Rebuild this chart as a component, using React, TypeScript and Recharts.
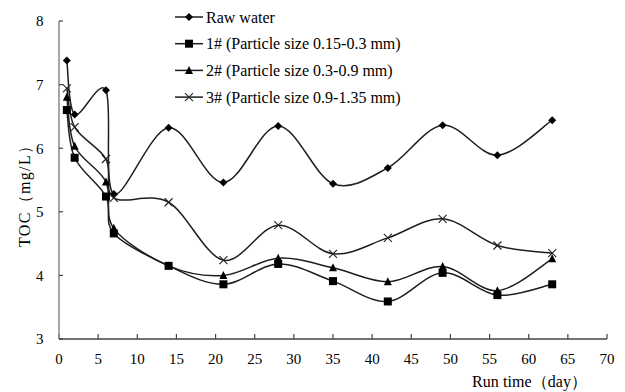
import React from 'react';
import { LineChart, Line, XAxis, YAxis, Legend, Label } from 'recharts';

const days = [1, 2, 6, 7, 14, 21, 28, 35, 42, 49, 56, 63];
const rawWater = [7.38, 6.53, 6.91, 5.28, 6.32, 5.46, 6.35, 5.44, 5.69, 6.36, 5.89, 6.44];
const filter1 = [6.6, 5.85, 5.24, 4.66, 4.15, 3.86, 4.18, 3.91, 3.59, 4.04, 3.69, 3.86];
const filter2 = [6.8, 6.03, 5.47, 4.74, 4.15, 4.0, 4.27, 4.12, 3.9, 4.14, 3.76, 4.26];
const filter3 = [6.94, 6.33, 5.83, 5.22, 5.15, 4.24, 4.79, 4.34, 4.59, 4.89, 4.47, 4.35];

const seriesNames = [
  'Raw water',
  '1# (Particle size 0.15-0.3 mm)',
  '2# (Particle size 0.3-0.9 mm)',
  '3# (Particle size 0.9-1.35 mm)',
];
const seriesKeys = ['raw', 's1', 's2', 's3'];
const markerKinds = ['diamond', 'square', 'triangle', 'cross'];

const xTicks = [0, 5, 10, 15, 20, 25, 30, 35, 40, 45, 50, 55, 60, 65, 70];
const yTicks = [3, 4, 5, 6, 7, 8];

const data = days.map((d, i) => ({
  day: d,
  raw: rawWater[i],
  s1: filter1[i],
  s2: filter2[i],
  s3: filter3[i],
}));

const FONT = '"Liberation Serif", "Times New Roman", serif';
const LINE_COLOR = '#1e1e1e';

// Excel-like smoothed line (Bezier with 1/6 tangent factor, clamped)
const excelCurve = (context: any) => {
  let pts: number[][] = [];
  const dist = (a: number[], b: number[]) => Math.hypot(a[0] - b[0], a[1] - b[1]);
  return {
    areaStart() {},
    areaEnd() {},
    lineStart() {
      pts = [];
    },
    point(x: number, y: number) {
      pts.push([+x, +y]);
    },
    lineEnd() {
      const n = pts.length;
      if (!n) return;
      context.moveTo(pts[0][0], pts[0][1]);
      for (let i = 0; i < n - 1; i++) {
        const p0 = pts[Math.max(i - 1, 0)];
        const p1 = pts[i];
        const p2 = pts[i + 1];
        const p3 = pts[Math.min(i + 2, n - 1)];
        const d02 = dist(p0, p2);
        const d12 = dist(p1, p2);
        const d13 = dist(p1, p3);
        const f0 = d02 > 0 ? Math.min(1 / 6, d12 / (2 * d02)) : 0;
        const f1 = d13 > 0 ? Math.min(1 / 6, d12 / (2 * d13)) : 0;
        const c1x = p1[0] + f0 * (p2[0] - p0[0]);
        const c1y = p1[1] + f0 * (p2[1] - p0[1]);
        const c2x = p2[0] - f1 * (p3[0] - p1[0]);
        const c2y = p2[1] - f1 * (p3[1] - p1[1]);
        context.bezierCurveTo(c1x, c1y, c2x, c2y, p2[0], p2[1]);
      }
    },
  };
};

const Marker = ({ kind, cx, cy }: { kind: string; cx: number; cy: number }) => {
  if (kind === 'diamond') {
    const r = 4;
    return <polygon points={`${cx},${cy - r} ${cx + r},${cy} ${cx},${cy + r} ${cx - r},${cy}`} fill="#000" />;
  }
  if (kind === 'square') {
    const r = 4;
    return <rect x={cx - r} y={cy - r} width={2 * r} height={2 * r} fill="#000" />;
  }
  if (kind === 'triangle') {
    return <polygon points={`${cx},${cy - 4.5} ${cx + 4},${cy + 3.5} ${cx - 4},${cy + 3.5}`} fill="#000" />;
  }
  const r = 4;
  return (
    <g stroke="#222" strokeWidth={1.1}>
      <line x1={cx - r} y1={cy - r} x2={cx + r} y2={cy + r} />
      <line x1={cx - r} y1={cy + r} x2={cx + r} y2={cy - r} />
    </g>
  );
};

const makeDot = (kind: string, key: string) => (props: any) => {
  const { cx, cy, index } = props;
  if (cx == null || cy == null) return <g key={`${key}-${index}`} />;
  return (
    <g key={`${key}-${index}`}>
      <Marker kind={kind} cx={cx} cy={cy} />
    </g>
  );
};

const LegendContent = () => (
  <svg width={280} height={112} style={{ display: 'block' }}>
    {seriesNames.map((name, i) => {
      const y = 17 + i * 26.7;
      return (
        <g key={name}>
          <line x1={5} y1={y} x2={33} y2={y} stroke={LINE_COLOR} strokeWidth={1.5} />
          <Marker kind={markerKinds[i]} cx={19} cy={y} />
          <text x={36} y={y} dominantBaseline="central" fontFamily={FONT} fontSize={16} fill="#000">
            {name}
          </text>
        </g>
      );
    })}
  </svg>
);

export default function App() {
  return (
    <div style={{ position: 'absolute', left: 0, top: 0, width: 625, height: 392, background: '#fff' }}>
      <LineChart width={625} height={392} data={data} margin={{ top: 21, right: 18, bottom: 0, left: 0 }}>
        <XAxis
          dataKey="day"
          type="number"
          domain={[0, 70]}
          ticks={xTicks}
          interval={0}
          height={53}
          tickSize={-5}
          tickMargin={19}
          axisLine={{ stroke: '#444', strokeWidth: 1.5 }}
          tickLine={{ stroke: '#444', strokeWidth: 1.2 }}
          tick={{ fill: '#000', fontSize: 15, fontFamily: FONT }}
        >
          <Label
            content={() => (
              <text
                x={472}
                y={387}
                textAnchor="start"
                textLength={115}
                lengthAdjust="spacing"
                fontFamily={FONT}
                fontSize={16}
                fill="#000"
              >
                Run time（day）
              </text>
            )}
          />
        </XAxis>
        <YAxis
          type="number"
          domain={[3, 8]}
          ticks={yTicks}
          interval={0}
          width={59}
          tickSize={-4}
          tickMargin={19.5}
          axisLine={{ stroke: '#888', strokeWidth: 1.5 }}
          tickLine={{ stroke: '#444', strokeWidth: 1.2 }}
          tick={{ fill: '#000', fontSize: 15, fontFamily: FONT }}
        >
          <Label
            content={() => (
              <text
                transform="translate(24,247) rotate(-90)"
                textAnchor="start"
                dominantBaseline="central"
                textLength={109}
                lengthAdjust="spacing"
                fontFamily={FONT}
                fontSize={16}
                fill="#000"
              >
                TOC（mg/L）
              </text>
            )}
          />
        </YAxis>
        <Legend
          layout="vertical"
          align="center"
          verticalAlign="middle"
          wrapperStyle={{ left: 170, top: 0, width: 280, height: 112 }}
          content={() => <LegendContent />}
        />
        {seriesKeys.map((k, i) => (
          <Line
            key={k}
            dataKey={k}
            name={seriesNames[i]}
            type={excelCurve as any}
            stroke={LINE_COLOR}
            strokeWidth={1.5}
            dot={makeDot(markerKinds[i], k)}
            activeDot={false}
            isAnimationActive={false}
          />
        ))}
      </LineChart>
    </div>
  );
}
